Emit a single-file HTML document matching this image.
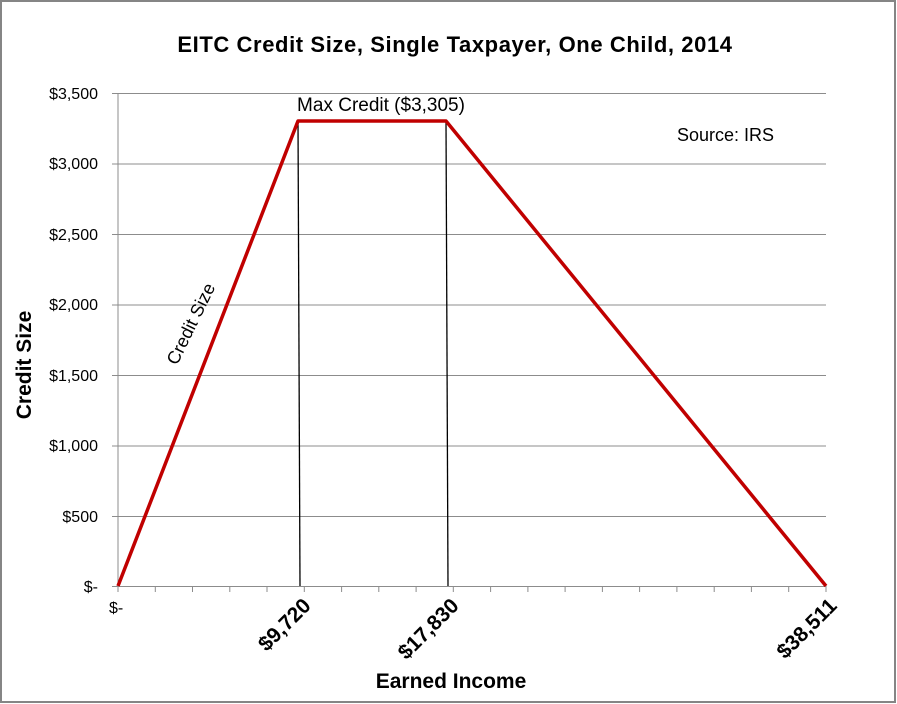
<!DOCTYPE html>
<html><head><meta charset="utf-8"><style>
html,body{margin:0;padding:0;background:#fff}
svg{display:block}
text{font-family:"Liberation Sans",sans-serif;fill:#000}
</style></head><body>
<svg width="897" height="704" viewBox="0 0 897 704">
<rect x="1" y="1" width="894" height="701" fill="#fff" stroke="#858585" stroke-width="2"/>
<text x="455" y="52" font-size="22" font-weight="bold" text-anchor="middle" letter-spacing="0.6">EITC Credit Size, Single Taxpayer, One Child, 2014</text>
<g stroke="#8c8c8c" stroke-width="1">
<line x1="112" y1="93.5" x2="826" y2="93.5"/>
<line x1="112" y1="164" x2="826" y2="164"/>
<line x1="112" y1="234.5" x2="826" y2="234.5"/>
<line x1="112" y1="305" x2="826" y2="305"/>
<line x1="112" y1="375.5" x2="826" y2="375.5"/>
<line x1="112" y1="446" x2="826" y2="446"/>
<line x1="112" y1="516.5" x2="826" y2="516.5"/>
<line x1="112" y1="586.5" x2="826" y2="586.5"/>
<line x1="118" y1="93.5" x2="118" y2="586.5"/>
</g>
<g font-size="16" text-anchor="end">
<text x="98" y="99">$3,500</text>
<text x="98" y="169">$3,000</text>
<text x="98" y="240">$2,500</text>
<text x="98" y="310">$2,000</text>
<text x="98" y="381">$1,500</text>
<text x="98" y="451">$1,000</text>
<text x="98" y="522">$500</text>
<text x="98" y="592">$-</text>
</g>
<line x1="298" y1="121" x2="300" y2="586" stroke="#000" stroke-width="1.3"/>
<line x1="446" y1="121" x2="448" y2="586" stroke="#000" stroke-width="1.3"/>
<polyline points="118,586 298,121 446,121 826,586" fill="none" stroke="#c00000" stroke-width="3.5" stroke-linejoin="round"/>
<text x="381" y="111" font-size="19" text-anchor="middle">Max Credit ($3,305)</text>
<text x="677" y="141" font-size="18">Source: IRS</text>
<text x="0" y="0" font-size="18" transform="translate(177,366) rotate(-64)">Credit Size</text>
<text x="0" y="0" font-size="21" font-weight="bold" text-anchor="middle" transform="translate(31,365) rotate(-90)">Credit Size</text>
<text x="451" y="688" font-size="21" font-weight="bold" text-anchor="middle">Earned Income</text>
<text x="109" y="613" font-size="16">$-</text>
<g font-size="21" font-weight="bold" text-anchor="end">
<text transform="translate(312,607) rotate(-45)">$9,720</text>
<text transform="translate(460,607) rotate(-45)">$17,830</text>
<text transform="translate(838,607) rotate(-45)">$38,511</text>
</g>
<g stroke="#8c8c8c" stroke-width="1">
<line x1="118" y1="586" x2="118" y2="592"/><line x1="155.3" y1="586" x2="155.3" y2="592"/><line x1="192.5" y1="586" x2="192.5" y2="592"/><line x1="229.8" y1="586" x2="229.8" y2="592"/><line x1="267" y1="586" x2="267" y2="592"/><line x1="304.3" y1="586" x2="304.3" y2="592"/><line x1="341.6" y1="586" x2="341.6" y2="592"/><line x1="378.8" y1="586" x2="378.8" y2="592"/><line x1="416.1" y1="586" x2="416.1" y2="592"/><line x1="453.3" y1="586" x2="453.3" y2="592"/><line x1="490.6" y1="586" x2="490.6" y2="592"/><line x1="527.9" y1="586" x2="527.9" y2="592"/><line x1="565.1" y1="586" x2="565.1" y2="592"/><line x1="602.4" y1="586" x2="602.4" y2="592"/><line x1="639.6" y1="586" x2="639.6" y2="592"/><line x1="676.9" y1="586" x2="676.9" y2="592"/><line x1="714.2" y1="586" x2="714.2" y2="592"/><line x1="751.4" y1="586" x2="751.4" y2="592"/><line x1="788.7" y1="586" x2="788.7" y2="592"/><line x1="826" y1="586" x2="826" y2="592"/>
</g>
</svg>
</body></html>
